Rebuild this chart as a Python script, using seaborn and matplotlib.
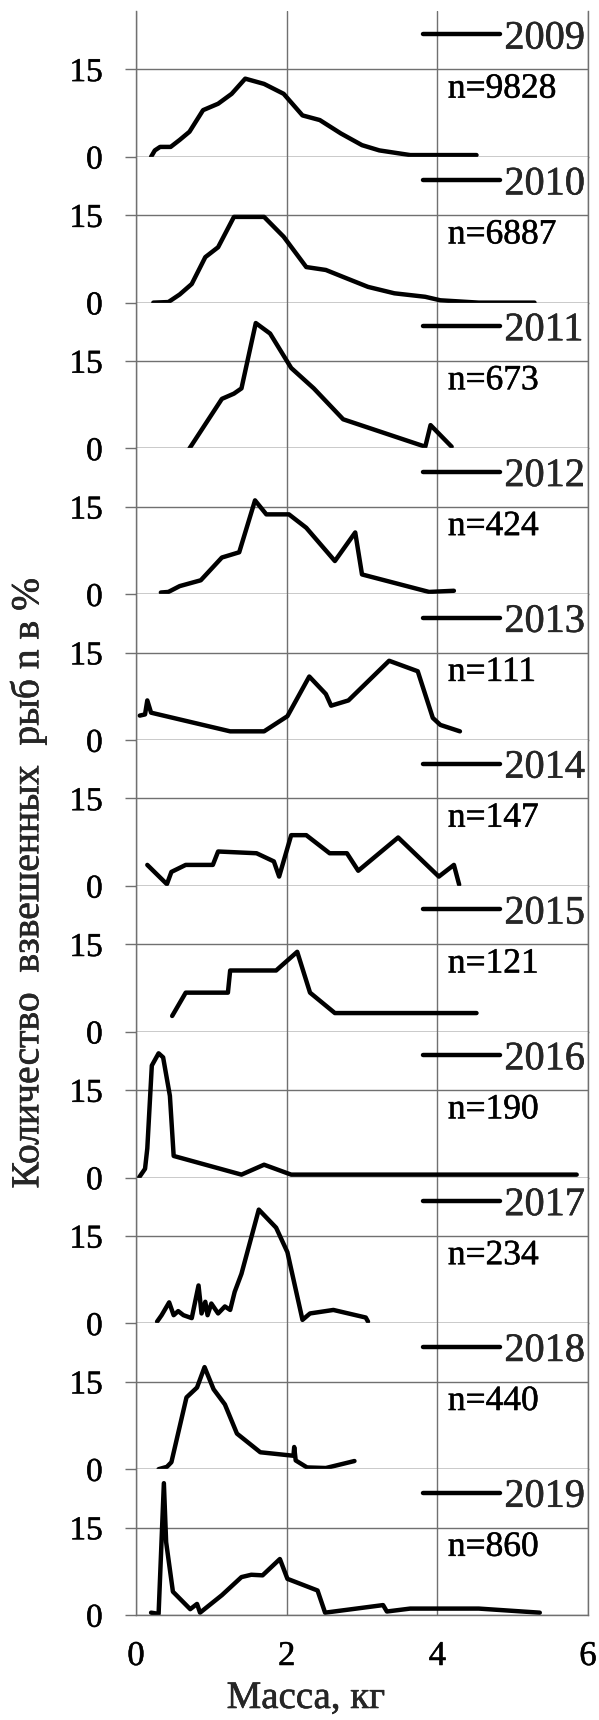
import matplotlib
matplotlib.use("Agg")
import matplotlib.pyplot as plt
import matplotlib.patheffects as pe
from matplotlib.text import Text
import seaborn as sns
import pandas as pd

# ---------------- data ----------------
years = ["2009", "2010", "2011", "2012", "2013", "2014", "2015", "2016", "2017", "2018", "2019"]
n_fish = [9828, 6887, 673, 424, 111, 147, 121, 190, 234, 440, 860]

mass_2009 = [0.20, 0.25, 0.32, 0.46, 0.58, 0.71, 0.89, 1.09, 1.27, 1.45, 1.70, 1.96, 2.21, 2.44, 2.72, 3.00, 3.23, 3.64, 4.52]
pct_2009 = [0, 1.1, 1.7, 1.7, 2.9, 4.3, 8.0, 9.1, 10.8, 13.4, 12.5, 10.8, 7.1, 6.3, 4.0, 2.0, 1.1, 0.3, 0.3]

mass_2010 = [0.23, 0.43, 0.58, 0.74, 0.92, 1.09, 1.30, 1.70, 1.96, 2.26, 2.52, 2.77, 3.08, 3.43, 3.84, 4.04, 4.55, 5.29]
pct_2010 = [0, 0.1, 1.4, 3.2, 7.8, 9.5, 14.7, 14.7, 11.3, 6.1, 5.6, 4.3, 2.7, 1.6, 1.0, 0.4, 0, 0]

mass_2011 = [0.71, 1.14, 1.30, 1.40, 1.59, 1.78, 2.06, 2.36, 2.75, 3.84, 3.91, 4.19]
pct_2011 = [0, 8.5, 9.4, 10.3, 21.5, 19.7, 13.8, 10.3, 5.0, 0.3, 4.0, 0.3]

mass_2012 = [0.33, 0.43, 0.58, 0.86, 1.14, 1.37, 1.58, 1.73, 2.03, 2.26, 2.64, 2.91, 3.00, 3.89, 4.22]
pct_2012 = [0.3, 0.4, 1.4, 2.4, 6.3, 7.2, 16.1, 13.7, 13.7, 11.4, 5.7, 10.6, 3.4, 0.4, 0.6]

mass_2013 = [0.05, 0.12, 0.15, 0.20, 1.25, 1.70, 2.01, 2.30, 2.52, 2.59, 2.82, 3.36, 3.74, 3.94, 4.04, 4.30]
pct_2013 = [4.2, 4.4, 6.8, 4.7, 1.5, 1.5, 4.1, 10.9, 7.9, 5.9, 6.8, 13.6, 11.8, 3.8, 2.6, 1.5]

mass_2014 = [0.15, 0.41, 0.47, 0.66, 1.02, 1.09, 1.60, 1.83, 1.90, 2.06, 2.26, 2.57, 2.80, 2.95, 3.48, 4.02, 4.22, 4.29]
pct_2014 = [3.6, 0.3, 2.4, 3.6, 3.6, 5.9, 5.6, 4.2, 1.6, 8.7, 8.7, 5.6, 5.6, 2.6, 8.3, 1.6, 3.6, 0.2]

mass_2015 = [0.48, 0.66, 1.22, 1.25, 1.86, 2.14, 2.31, 2.64, 4.52]
pct_2015 = [2.7, 6.7, 6.7, 10.5, 10.5, 13.7, 6.7, 3.2, 3.2]

mass_2016 = [0.04, 0.12, 0.15, 0.21, 0.30, 0.36, 0.45, 0.50, 1.40, 1.70, 2.06, 5.85]
pct_2016 = [0, 1.5, 5.0, 19.2, 21.3, 20.6, 14.0, 3.7, 0.5, 2.2, 0.5, 0.5]

mass_2017 = [0.28, 0.34, 0.44, 0.50, 0.56, 0.63, 0.74, 0.83, 0.87, 0.92, 0.95, 1.00, 1.09, 1.18, 1.25,
             1.31, 1.40, 1.63, 1.86, 2.01, 2.21, 2.31, 2.62, 3.05, 3.08]
pct_2017 = [0.3, 1.4, 3.6, 1.4, 2.1, 1.4, 0.9, 6.5, 1.7, 3.7, 1.4, 3.4, 1.7, 2.9, 2.3,
            5.4, 8.5, 19.5, 16.4, 12.2, 0.6, 1.7, 2.3, 1.0, 0.3]

mass_2018 = [0.30, 0.41, 0.47, 0.67, 0.81, 0.91, 1.03, 1.18, 1.34, 1.65, 2.09, 2.10, 2.12, 2.27, 2.52, 2.90]
pct_2018 = [0, 0.4, 1.2, 12.3, 14.0, 17.5, 13.7, 11.1, 6.1, 2.9, 2.3, 3.8, 1.5, 0.3, 0.2, 1.4]

mass_2019 = [0.20, 0.30, 0.37, 0.40, 0.49, 0.72, 0.81, 0.85, 1.14, 1.40, 1.53, 1.68, 1.91, 2.01, 2.41,
             2.51, 3.28, 3.33, 3.64, 4.55, 5.36]
pct_2019 = [0.4, 0.2, 22.6, 12.5, 4.0, 1.0, 1.9, 0.4, 3.4, 6.5, 6.9, 6.8, 9.6, 6.2, 4.2,
            0.4, 1.7, 0.6, 1.1, 1.1, 0.4]

x_ticks = [0, 2, 4, 6]
y_ticks = [0, 15]
x_label = "Масса, кг"
y_label = "Количество  взвешенных  рыб n в %"

series = {
    "2009": (mass_2009, pct_2009), "2010": (mass_2010, pct_2010),
    "2011": (mass_2011, pct_2011), "2012": (mass_2012, pct_2012),
    "2013": (mass_2013, pct_2013), "2014": (mass_2014, pct_2014),
    "2015": (mass_2015, pct_2015), "2016": (mass_2016, pct_2016),
    "2017": (mass_2017, pct_2017), "2018": (mass_2018, pct_2018),
    "2019": (mass_2019, pct_2019),
}

# ---------------- style ----------------
sns.set_theme(style="white")
plt.rcParams["font.family"] = ["Liberation Serif", "DejaVu Serif"]

GRID = "#707070"
W, H = 599, 1720
fig, axes = plt.subplots(len(years), 1, figsize=(W / 100, H / 100), dpi=100, sharex=True)
fig.subplots_adjust(left=136 / W, right=588 / W, top=1 - 11 / H, bottom=1 - 1615 / H, hspace=0)

for i, (ax, yr, n) in enumerate(zip(axes, years, n_fish)):
    mx, py = series[yr]
    df = pd.DataFrame({"mass": mx, "pct": py})
    sns.lineplot(data=df, x="mass", y="pct", ax=ax, color="black", lw=3.2,
                 sort=False, estimator=None, label=yr)
    ax.set_xlim(0, 6)
    ax.set_ylim(0, 25)
    ax.set_xticks(x_ticks)
    ax.set_yticks(y_ticks)
    ax.set_xlabel("")
    ax.set_ylabel("")
    ax.grid(True, color=GRID, lw=1.0)
    for s in ["left", "right", "bottom"]:
        ax.spines[s].set_visible(True)
        ax.spines[s].set_color(GRID)
        ax.spines[s].set_linewidth(1.0)
    ax.spines["top"].set_visible(False)
    ax.tick_params(axis="y", which="both", left=True, length=8, width=1.0, color=GRID,
                   pad=16, labelsize=24, labelcolor="black")
    ax.tick_params(axis="x", which="both", bottom=False, length=0, pad=18,
                   labelsize=25, labelcolor="black", labelbottom=(i == len(years) - 1))
    leg = ax.legend(loc="center left", bbox_to_anchor=(0.635, 0.808), frameon=False,
                    fontsize=29, borderpad=0, borderaxespad=0, handlelength=1.9,
                    handletextpad=0.12)
    for h in leg.get_lines():
        h.set_linewidth(3.2)
    ax.text(4.14, 11.6, f"n={n}", fontsize=25.5, ha="left", va="center", color="black")

fig.text(28 / W, 1 - 883 / H, y_label, rotation=90, ha="center", va="center", fontsize=28.5)
fig.text(306 / W, 1 - 1708 / H, x_label, ha="center", va="baseline", fontsize=28)

# slightly heavier glyphs, like the scanned original
for t in fig.findobj(Text):
    t.set_path_effects([pe.withStroke(linewidth=0.4, foreground="#1a1a1a")])

fig.savefig("out.png", dpi=100, facecolor="white")
